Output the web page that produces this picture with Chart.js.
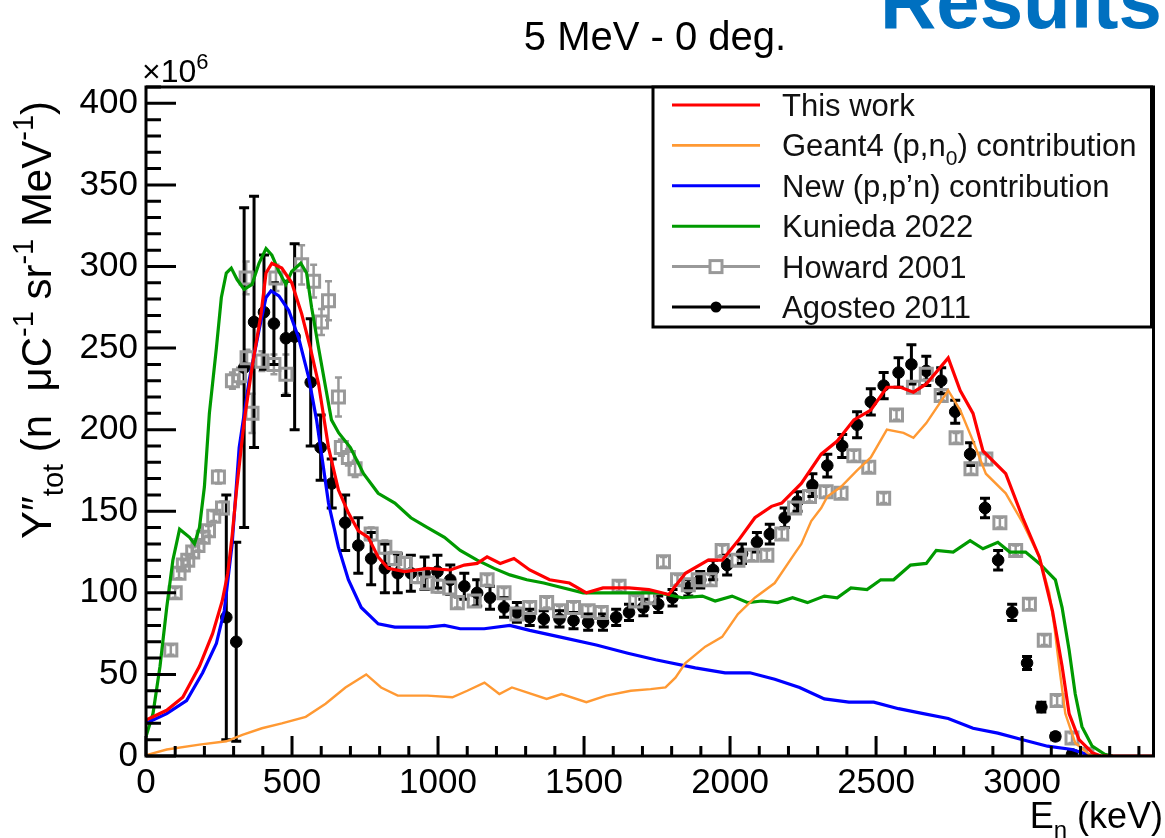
<!DOCTYPE html>
<html>
<head>
<meta charset="utf-8">
<script src="https://cdn.jsdelivr.net/npm/chart.js@4.4.1/dist/chart.umd.min.js"></script>
<style>
html,body{margin:0;padding:0;background:#fff;overflow:hidden}
canvas{display:block}
</style>
</head>
<body>
<canvas id="c" width="1165" height="838"></canvas>
<script>
// ---------------- data (keV, 10^6 n/(uC sr MeV)) ----------------
const redE = [0,71,126,183,228,261,280,295,310,336,363,394,411,431,465,499,533,563,591,625,659,693,727,761,795,829,886,964,1042,1090,1134,1168,1213,1260,1314,1382,1450,1508,1565,1654,1722,1790,1847,1925,1973,2028,2085,2142,2177,2244,2312,2367,2424,2482,2537,2584,2628,2672,2747,2788,2832,2866,2944,3002,3059,3104,3137,3161,3195,3240,3270,3450];
const redY = [22,28,36,55,75,95,112,135,163,205,238,271,296,302,299,290,271,250,228,189,163,149,138,134,122,115,113,115,114,117,118,122,118,121,114,108,106,100,103,103,102,99,112,120,120,132,146,153,155,167,185,193,206,212,226,226,223,228,244,224,210,187,173,146,122,89,55,26,10,2,0,0];

const orangeE = [0,71,183,275,330,397,465,547,615,683,754,805,862,964,1049,1100,1159,1210,1253,1304,1372,1423,1508,1576,1660,1728,1779,1813,1847,1915,1973,2027,2085,2153,2221,2244,2278,2312,2333,2380,2435,2482,2537,2594,2628,2672,2747,2788,2832,2876,2944,3002,3059,3093,3110,3127,3148,3182,3230,3270];
const orangeY = [0.5,4,7,9,13,17,20,24,32,42,50,42,37,37,36,40,45,38,42,39,35,38,33,37,40,41,42,48,57,67,73,87,97,106,124,130,144,152,159,165,175,183,200,198,195,204,224,212,193,173,161,143,122,100,80,55,26,8,1,0];

const blueE = [0,71,139,194,241,268,295,319,353,387,411,428,455,489,523,557,584,605,625,659,693,737,795,852,964,1022,1076,1158,1246,1314,1416,1542,1650,1745,1881,1983,2068,2153,2238,2323,2407,2492,2577,2662,2747,2832,2917,3002,3087,3171,3222,3260];
const blueY = [20,26,34,51,69,89,130,189,230,261,281,285,282,273,256,232,206,180,155,128,108,91,81,79,79,80,78,78,80,77,73,68,63,59,54,51,51,47,42,35,33,33,29,26,23,17,14,10,6,4,1,0];

const greenE = [0,24,48,71,92,115,149,166,183,200,217,241,258,275,292,312,336,363,387,411,431,455,479,499,530,550,567,591,615,635,660,700,745,795,852,907,964,1022,1076,1134,1192,1246,1304,1362,1430,1497,1586,1677,1756,1837,1905,1949,2007,2061,2109,2163,2214,2265,2323,2367,2414,2469,2516,2560,2618,2672,2706,2764,2822,2866,2917,2958,3012,3059,3114,3137,3161,3182,3205,3240,3283,3310];
const greenY = [12,26,55,91,120,139,134,130,140,165,210,250,281,296,299,292,286,289,302,311,307,297,289,297,302,296,275,250,226,206,198,189,173,161,155,146,140,134,126,120,115,111,108,106,103,100,100,100,100,97,98,95,98,94,95,94,97,94,98,97,103,102,108,108,117,118,126,125,132,127,131,125,125,118,108,91,65,38,18,6,1,0];

const howardE = [85,100,113,128,143,160,178,196,214,232,248,262,296,320,343,346,363,397,438,445,479,533,574,601,625,659,669,693,716,771,818,852,886,930,964,1000,1040,1066,1124,1168,1226,1270,1314,1372,1416,1464,1514,1559,1620,1677,1722,1772,1820,1857,1891,1932,1973,2027,2074,2126,2177,2221,2272,2329,2380,2424,2475,2526,2570,2628,2672,2723,2774,2825,2876,2924,2978,3025,3076,3120,3171,3222];
const howardY = [65,100,112,117,120,125,129,134,138,147,171,152,230,233,293,244,210,242,240,293,234,301,291,266,279,220,189,183,176,136,128,121,118,110,106,104,103,94,95,108,100,87,91,94,89,91,89,88,104,95,97,119,108,105,108,108,126,120,123,123,136,152,159,162,161,184,177,158,209,226,234,221,195,176,182,143,126,93,71,34,11,1];
const howardErr = [3,3,3,3,3,3,3,3,3,3,4,4,5,5,10,5,12,6,6,8,12,12,10,8,12,12,5,5,5,4,4,4,4,4,4,4,4,3,3,3,3,3,3,3,3,3,3,3,3,3,3,3,3,3,3,3,3,3,3,3,3,3,3,3,3,3,3,3,3,3,3,3,3,3,3,3,3,3,3,3,3,3];

const agosteoE = [275,309,336,370,404,438,479,509,564,598,636,682,727,771,818,862,907,954,998,1042,1090,1134,1178,1226,1270,1314,1362,1416,1464,1514,1565,1610,1654,1703,1754,1803,1857,1898,1942,1990,2041,2092,2136,2187,2231,2282,2333,2384,2435,2482,2526,2577,2621,2672,2723,2771,2822,2873,2918,2966,3017,3066,3114,3171];
const agosteoY = [85,70,238,266,272,265,256,257,229,189,167,143,129,121,115,112,112,112,113,108,104,100,97,91,88,85,84,84,83,82,82,85,88,91,93,97,103,108,114,117,124,131,136,146,156,166,178,190,203,217,227,235,240,236,230,211,185,152,120,88,57,30,12,1];
const agosteoErr = [75,61,98,77,35,25,35,57,39,20,15,17,17,16,15,12,11,10,10,9,8,8,7,6,6,5,5,5,5,5,5,5,5,5,5,5,5,5,6,6,6,6,6,6,6,7,7,7,8,8,8,9,12,9,8,7,7,6,6,5,4,3,2,2];

const xTicks = [0,500,1000,1500,2000,2500,3000];
const yTicks = [0,50,100,150,200,250,300,350,400];
const X_MAX = 3450, Y_MAX = 410;

const labels = [
  "This work",
  "Geant4 (p,n_{0}) contribution",
  "New (p,p\u2019n) contribution",
  "Kunieda 2022",
  "Howard 2001",
  "Agosteo 2011"
];

const pts = (E, Y) => E.map((e, i) => ({x: e, y: Y[i]}));
const FONT = '"Liberation Sans", Arial, Helvetica, sans-serif';

function curve(label, E, Y, color, w) {
  return {label, data: pts(E, Y), showLine: true, borderColor: color, backgroundColor: color,
          borderWidth: w, pointRadius: 0, pointHoverRadius: 0, tension: 0, fill: false};
}

const datasets = [
  curve(labels[0], redE, redY, '#ff0000', 3.2),
  curve(labels[1], orangeE, orangeY, '#ff9933', 2.4),
  curve(labels[2], blueE, blueY, '#0000ff', 3.2),
  curve(labels[3], greenE, greenY, '#009a00', 3.2),
  {label: labels[4], data: pts(howardE, howardY), showLine: false, pointStyle: 'rect',
   pointRadius: 8.5, borderColor: '#999999', backgroundColor: 'rgba(255,255,255,0)', borderWidth: 3},
  {label: labels[5], data: pts(agosteoE, agosteoY), showLine: false, pointStyle: 'circle',
   pointRadius: 5.8, borderColor: '#000000', backgroundColor: '#000000', borderWidth: 1}
];
const errs = {4: howardErr, 5: agosteoErr};

// rich text: supports _{...} and ^{...}
function parseRich(s) {
  const out = []; let i = 0, buf = '';
  while (i < s.length) {
    if ((s[i] === '_' || s[i] === '^') && s[i+1] === '{') {
      if (buf) { out.push({t: buf, k: 'n'}); buf = ''; }
      const j = s.indexOf('}', i);
      out.push({t: s.slice(i+2, j), k: s[i] === '_' ? 'sub' : 'sup'});
      i = j + 1;
    } else { buf += s[i]; i++; }
  }
  if (buf) out.push({t: buf, k: 'n'});
  return out;
}
function richWidth(ctx, s, size) {
  let w = 0;
  for (const p of parseRich(s)) {
    ctx.font = (p.k === 'n' ? size : Math.round(size*0.68)) + 'px ' + FONT;
    w += ctx.measureText(p.t).width;
  }
  return w;
}
function drawRich(ctx, s, x, y, size, align) {
  let w = richWidth(ctx, s, size);
  let cx = align === 'center' ? x - w/2 : align === 'right' ? x - w : x;
  ctx.textAlign = 'left'; ctx.textBaseline = 'alphabetic';
  for (const p of parseRich(s)) {
    const fs = p.k === 'n' ? size : Math.round(size*0.68);
    ctx.font = fs + 'px ' + FONT;
    const dy = p.k === 'sub' ? size*0.28 : p.k === 'sup' ? -size*0.42 : 0;
    ctx.fillText(p.t, cx, y + dy);
    cx += ctx.measureText(p.t).width;
  }
}

const decor = {
  id: 'decor',
  beforeDatasetsDraw(chart) {
    const ctx = chart.ctx, a = chart.chartArea, xs = chart.scales.x, ys = chart.scales.y;
    ctx.save();
    ctx.beginPath(); ctx.rect(a.left, a.top, a.right - a.left, a.bottom - a.top); ctx.clip();
    for (const k of [4, 5]) {
      const ds = chart.data.datasets[k], e = errs[k];
      ctx.strokeStyle = k === 4 ? '#999999' : '#000000';
      ctx.lineWidth = k === 4 ? 2.5 : 3;
      const cap = k === 4 ? 3.5 : 5;
      ds.data.forEach((p, i) => {
        const px = xs.getPixelForValue(p.x);
        const y1 = ys.getPixelForValue(p.y + e[i]), y2 = ys.getPixelForValue(Math.max(0, p.y - e[i]));
        ctx.beginPath();
        ctx.moveTo(px, y1); ctx.lineTo(px, y2);
        ctx.moveTo(px - cap, y1); ctx.lineTo(px + cap, y1);
        ctx.moveTo(px - cap, y2); ctx.lineTo(px + cap, y2);
        ctx.stroke();
      });
    }
    ctx.restore();
  },
  afterDatasetsDraw(chart) {
    const ctx = chart.ctx, a = chart.chartArea, xs = chart.scales.x, ys = chart.scales.y;
    ctx.save();
    ctx.strokeStyle = '#000'; ctx.lineWidth = 3; ctx.lineCap = 'butt';
    ctx.strokeRect(a.left, a.top, a.right - a.left, a.bottom - a.top);
    ctx.beginPath();
    for (let v = 0; v <= X_MAX; v += 100) {
      const px = xs.getPixelForValue(v);
      const len = v % 500 === 0 ? 20 : 10;
      ctx.moveTo(px, a.bottom); ctx.lineTo(px, a.bottom - len);
    }
    for (let v = 0; v <= Y_MAX; v += 10) {
      const py = ys.getPixelForValue(v);
      const len = v % 50 === 0 ? 30 : 15;
      ctx.moveTo(a.left, py); ctx.lineTo(a.left + len, py);
    }
    ctx.stroke();
    ctx.restore();
  },
  afterDraw(chart) {
    const ctx = chart.ctx, a = chart.chartArea;
    ctx.save();
    // legend
    const bx = a.left + 507, by = a.top, bw = a.right - 2 - bx, bh = 240;
    ctx.fillStyle = '#fff'; ctx.fillRect(bx, by, bw, bh);
    ctx.strokeStyle = '#000'; ctx.lineWidth = 3; ctx.strokeRect(bx, by, bw, bh);
    chart.data.datasets.forEach((ds, i) => {
      const cy = by + 18 + i * 40.4;
      const x1 = bx + 19, x2 = bx + 107, xm = (x1 + x2) / 2;
      ctx.beginPath(); ctx.moveTo(x1, cy); ctx.lineTo(x2, cy);
      ctx.strokeStyle = ds.borderColor; ctx.lineWidth = i === 1 ? 2.6 : 3; ctx.stroke();
      if (i === 4) {
        ctx.fillStyle = '#fff'; ctx.fillRect(xm - 6, cy - 6, 12, 12);
        ctx.lineWidth = 3; ctx.strokeStyle = '#999'; ctx.strokeRect(xm - 6, cy - 6, 12, 12);
      }
      if (i === 5) {
        ctx.fillStyle = '#000'; ctx.beginPath(); ctx.arc(xm, cy, 5.5, 0, Math.PI*2); ctx.fill();
      }
      ctx.fillStyle = '#111';
      drawRich(ctx, ds.label, bx + 129, cy + 11, 31, 'left');
    });
    // titles
    ctx.fillStyle = '#000';
    drawRich(ctx, '5 MeV - 0 deg.', 655, 50, 40, 'center');
    drawRich(ctx, '\u00d710^{6}', 142, 82, 32, 'left');
    drawRich(ctx, 'E_{n} (keV)', 1163, 828, 36, 'right');
    ctx.save();
    ctx.translate(51, 320); ctx.rotate(-Math.PI/2);
    drawRich(ctx, 'Y\u2033_{tot} (n  \u03bcC^{-1} sr^{-1} MeV^{-1})', 0, 0, 42, 'center');
    ctx.restore();
    ctx.fillStyle = '#0070c0';
    ctx.font = 'bold 78px ' + FONT; ctx.textAlign = 'left'; ctx.textBaseline = 'alphabetic';
    ctx.fillText('Results', 880, 28);
    ctx.restore();
  }
};

new Chart(document.getElementById('c'), {
  type: 'scatter',
  data: {datasets},
  options: {
    responsive: false, animation: false, devicePixelRatio: 1,
    layout: {padding: {left: 0, top: 87, right: 3, bottom: 0}},
    plugins: {legend: {display: false}, tooltip: {enabled: false}},
    scales: {
      x: {type: 'linear', min: 0, max: X_MAX,
          afterBuildTicks: s => { s.ticks = xTicks.map(v => ({value: v})); },
          afterFit: s => { s.height = 82; },
          ticks: {autoSkip: false, maxRotation: 0, minRotation: 0, color: '#000', padding: 6,
                  font: {size: 35, family: FONT}, callback: v => String(v)},
          grid: {display: false, drawTicks: false}, border: {display: false}},
      y: {type: 'linear', min: 0, max: Y_MAX,
          afterBuildTicks: s => { s.ticks = yTicks.map(v => ({value: v})); },
          afterFit: s => { s.width = 146; },
          ticks: {autoSkip: false, color: '#000', padding: 8,
                  font: {size: 35, family: FONT}, callback: v => String(v)},
          grid: {display: false, drawTicks: false}, border: {display: false}}
    }
  },
  plugins: [decor]
});
</script>
</body>
</html>
